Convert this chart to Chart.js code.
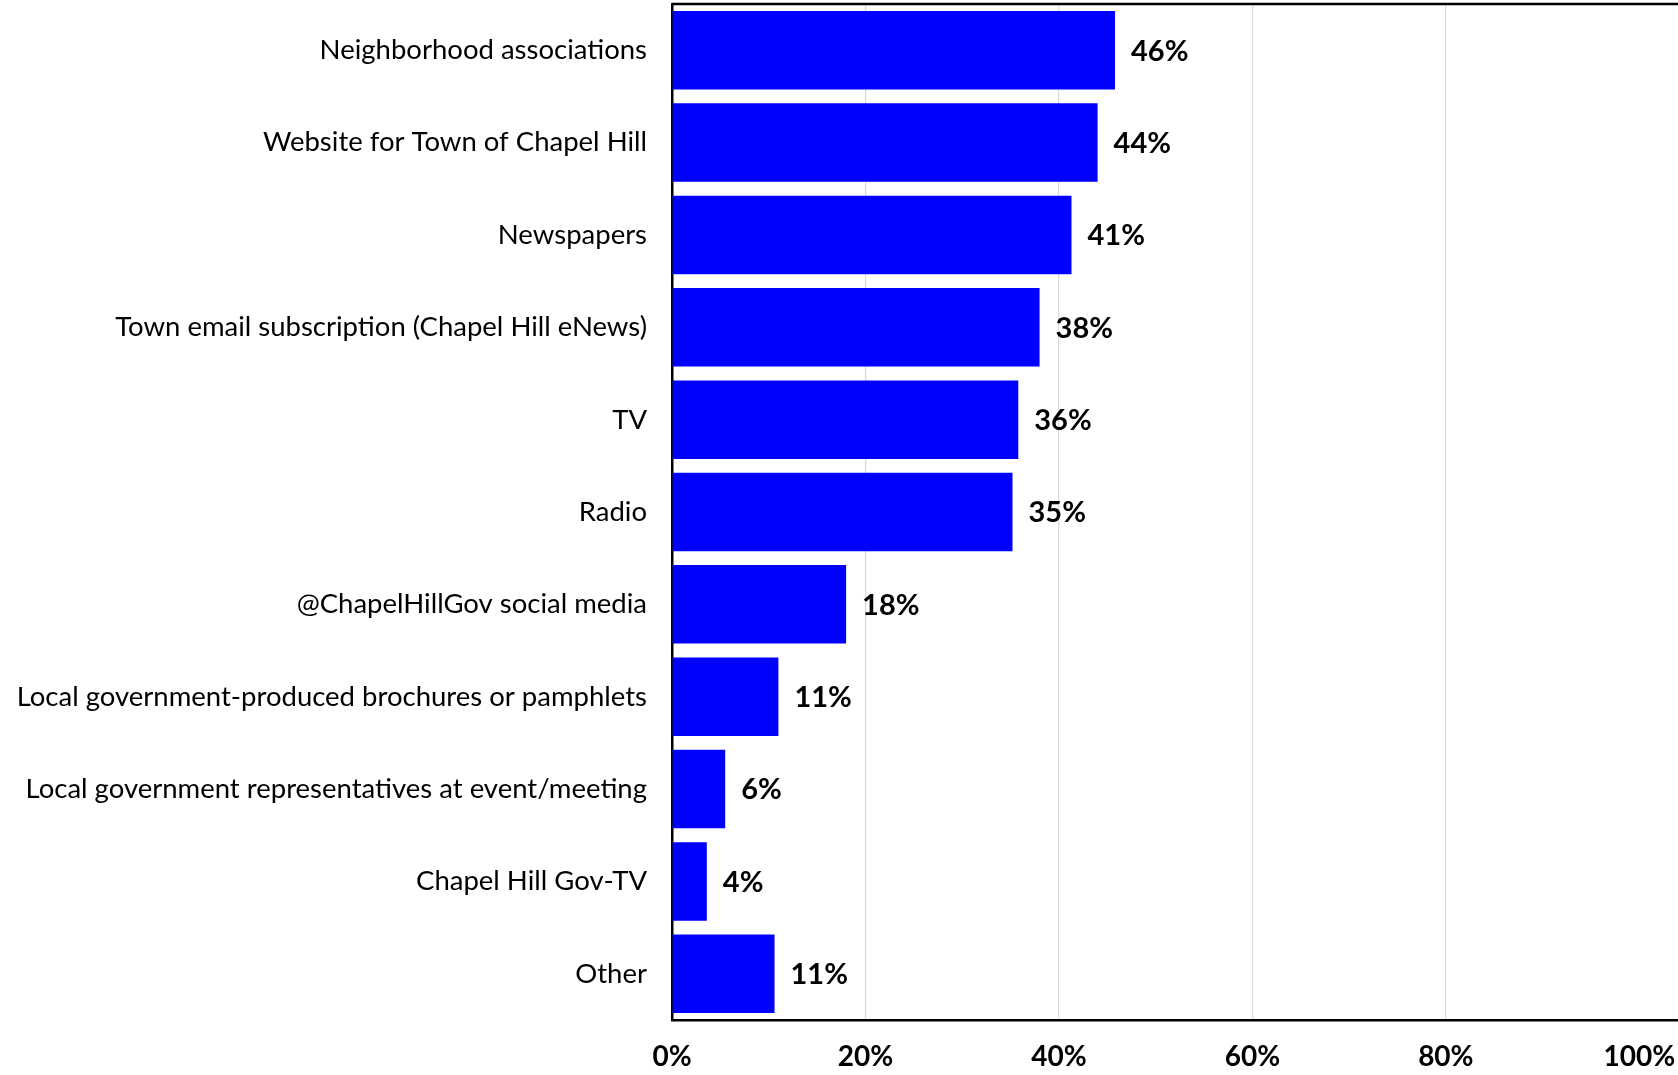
<!DOCTYPE html>
<html>
<head>
<meta charset="utf-8">
<script src="https://cdn.jsdelivr.net/npm/chart.js@4.4.1/dist/chart.umd.min.js"></script>
<style>
  html, body { margin: 0; padding: 0; background: #ffffff; }
  #wrap { width: 1678px; height: 1075px; position: relative; }
</style>
</head>
<body>
<div id="wrap"><canvas id="c" width="1678" height="1075"></canvas></div>
<script>
const categories = [
  "Neighborhood associations",
  "Website for Town of Chapel Hill",
  "Newspapers",
  "Town email subscription (Chapel Hill eNews)",
  "TV",
  "Radio",
  "@ChapelHillGov social media",
  "Local government-produced brochures or pamphlets",
  "Local government representatives at event/meeting",
  "Chapel Hill Gov-TV",
  "Other"
];
const shares = [45.8, 44.0, 41.3, 38.0, 35.8, 35.2, 18.0, 11.0, 5.5, 3.6, 10.6];
const tickValues = [0, 20, 40, 60, 80, 100];
const tickLabels = ["0%", "20%", "40%", "60%", "80%", "100%"];

const FONT = "Lato, 'Open Sans', sans-serif";

const valueLabels = {
  id: 'valueLabels',
  afterDatasetsDraw(chart) {
    const ctx = chart.ctx;
    const meta = chart.getDatasetMeta(0);
    ctx.save();
    ctx.font = "bold 29px " + FONT;
    ctx.fillStyle = "#000000";
    ctx.textAlign = "left";
    ctx.textBaseline = "middle";
    meta.data.forEach((el, i) => {
      ctx.fillText(Math.round(shares[i]) + "%", el.x + 16, el.y + 1);
    });
    ctx.restore();
  }
};

const topBorder = {
  id: 'topBorder',
  afterDraw(chart) {
    const a = chart.chartArea;
    const ctx = chart.ctx;
    ctx.save();
    ctx.strokeStyle = "#000000";
    ctx.lineWidth = 2.5;
    ctx.beginPath();
    ctx.moveTo(a.left, a.top);
    ctx.lineTo(a.right, a.top);
    ctx.stroke();
    ctx.restore();
  }
};

new Chart(document.getElementById('c'), {
  type: 'bar',
  data: {
    labels: categories,
    datasets: [{
      data: shares,
      backgroundColor: "#0000ff",
      borderWidth: 0,
      categoryPercentage: 1.0,
      barPercentage: 0.85
    }]
  },
  options: {
    indexAxis: 'y',
    responsive: false,
    animation: false,
    devicePixelRatio: 1,
    layout: { padding: { top: 4, right: 0, left: 0, bottom: 0 } },
    plugins: {
      legend: { display: false },
      tooltip: { enabled: false },
      title: { display: false }
    },
    scales: {
      x: {
        type: 'linear',
        min: 0,
        max: 104,
        afterBuildTicks(scale) {
          scale.ticks = tickValues.map(v => ({ value: v }));
        },
        afterFit(scale) {
          scale.height = 55;
          scale.paddingLeft = 0;
          scale.paddingRight = 0;
        },
        ticks: {
          padding: 20,
          color: "#000000",
          font: { family: FONT, size: 28, weight: 'bold' },
          callback(value) {
            const i = tickValues.indexOf(value);
            return i >= 0 ? tickLabels[i] : '';
          }
        },
        grid: {
          drawTicks: false,
          color(ctx) {
            const v = ctx.tick ? ctx.tick.value : null;
            return (v === 0 || v === 100) ? 'rgba(0,0,0,0)' : '#d9d9d9';
          },
          lineWidth: 1.2
        },
        border: { display: true, color: "#000000", width: 2.5 }
      },
      y: {
        afterFit(scale) {
          scale.width = 672;
          scale.paddingTop = 0;
          scale.paddingBottom = 0;
        },
        ticks: {
          padding: 25,
          color: "#000000",
          font: { family: FONT, size: 27.5 }
        },
        grid: { display: false, drawTicks: false },
        border: { display: true, color: "#000000", width: 2.5 }
      }
    }
  },
  plugins: [valueLabels, topBorder]
});
</script>
</body>
</html>
